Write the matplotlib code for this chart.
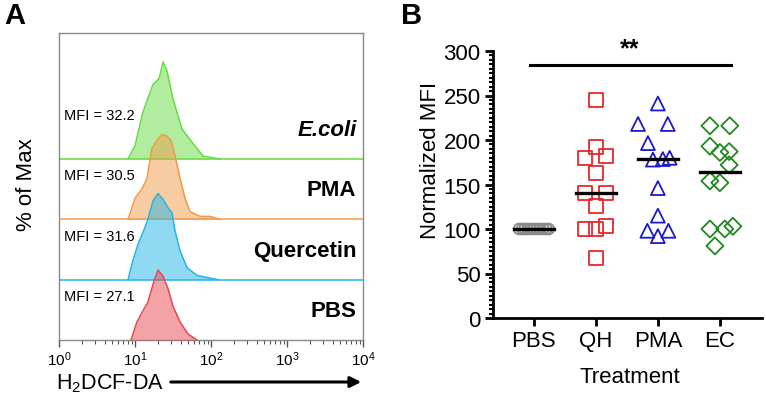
import numpy as np
import matplotlib
matplotlib.use("Agg")
import matplotlib.pyplot as plt
from matplotlib.ticker import LogLocator, MultipleLocator, NullFormatter

plt.rcParams['font.family'] = ['Liberation Sans', 'DejaVu Sans']
plt.rcParams['mathtext.default'] = 'regular'

# ---- Panel A: stacked flow histograms (x = fluorescence, h = % of lane height)
lanes = ["PBS", "Quercetin", "PMA", "E.coli"]
mfi = ["27.1", "31.6", "30.5", "32.2"]
line_colors = ["#e8474f", "#22b5e6", "#f09a48", "#66dd40"]

pbs_x = [8.86, 10.6, 12.4, 14.8, 17.8, 20.1, 23.4, 27.2, 31.6, 39.1, 49.8, 65.4]
pbs_h = [0, 30, 46, 63, 98, 116, 106, 85, 56, 30, 10, 0]

querc_x = [8.09, 9.41, 10.9, 12.7, 14.8, 17.3, 20.1, 23.4, 27.2, 30.7, 33.6, 39.1, 48.3, 65.4, 124]
querc_h = [0, 32, 58, 78, 100, 131, 143, 133, 119, 111, 81, 48, 20, 7, 0]

pma_x = [8.09, 10.0, 12.4, 14.4, 16.7, 19.5, 22.7, 26.4, 29.8, 33.6, 39.1, 45.5, 52.9, 71.6, 97, 131]
pma_h = [0, 35, 51, 68, 118, 131, 141, 138, 131, 106, 68, 35, 13, 5, 5, 0]

ecoli_x = [8.09, 10.0, 12.7, 17.3, 20.7, 23.4, 26.4, 31.6, 41.5, 56.2, 78.5, 131]
ecoli_h = [0, 22, 78, 124, 133, 161, 146, 100, 50, 28, 5, 0]

hist_x = [pbs_x, querc_x, pma_x, ecoli_x]
hist_h = [pbs_h, querc_h, pma_h, ecoli_h]

# ---- Panel B: normalized MFI dot plot
groups = ["PBS", "QH", "PMA", "EC"]
pbs_vals = [100] * 11
pbs_off = [-0.24, -0.19, -0.15, -0.1, -0.05, 0, 0.05, 0.1, 0.15, 0.2, 0.24]
qh_vals = [245, 192.5, 180, 182.4, 163, 140.4, 140.4, 125.5, 100, 100, 103.7, 67.4]
qh_off = [0, 0, -0.17, 0.17, 0, -0.17, 0.17, 0, -0.17, 0, 0.17, 0]
pma_vals = [241, 218, 218, 196.5, 178, 178.6, 180, 146, 115, 98, 98, 92]
pma_off = [0, -0.32, 0.16, -0.16, -0.08, 0.08, 0.19, 0, 0, -0.17, 0.17, 0]
ec_vals = [216, 216, 193, 186, 187, 172, 154, 152, 100, 100, 103, 81]
ec_off = [-0.16, 0.16, -0.16, 0, 0.15, 0.15, -0.16, 0, -0.16, 0.08, 0.21, -0.08]
medians = [100, 140.4, 178.7, 163.7]

fig = plt.figure(figsize=(7.66, 4.02), dpi=100)

# Panel A
axA = fig.add_axes([59 / 766, 61 / 402, 304 / 766, 307 / 402])
axA.set_xscale('log')
axA.set_xlim(1, 1e4)
axA.set_ylim(0, 5.09)
for i in range(3, -1, -1):
    xs = np.array(hist_x[i])
    ys = i + np.array(hist_h[i]) / 100.0
    axA.fill_between(xs, i, ys, color=line_colors[i], alpha=0.5, lw=0, zorder=2 + (3 - i))
    axA.plot(xs, ys, color=line_colors[i], lw=1.1, zorder=2 + (3 - i))
    if i > 0:
        axA.axhline(i, color=line_colors[i], lw=1.1, zorder=2 + (3 - i))
    axA.text(1.16, i + 0.73, "MFI = " + mfi[i], fontsize=10.5, va='center', ha='left', zorder=10)
    style = 'italic' if lanes[i] == "E.coli" else 'normal'
    axA.text(8200, i + 0.49, lanes[i], fontsize=16, fontweight='bold', fontstyle=style,
             ha='right', va='center', zorder=10)
for s in axA.spines.values():
    s.set_color('#888888')
    s.set_linewidth(1.0)
axA.set_yticks([])
axA.xaxis.set_major_locator(LogLocator(base=10, numticks=10))
axA.xaxis.set_minor_locator(LogLocator(base=10, subs=np.arange(2, 10), numticks=10))
axA.xaxis.set_minor_formatter(NullFormatter())
axA.tick_params(axis='x', which='major', length=5, width=1, color='#555555', labelsize=11, pad=2)
axA.tick_params(axis='x', which='minor', length=3, width=0.8, color='#555555')

fig.text(27 / 766, 1 - 185 / 402, "% of Max", rotation=90, fontsize=16, ha='center', va='center')
fig.text(56 / 766, 1 - 384 / 402, "H$_2$DCF-DA", fontsize=15.5, ha='left', va='center')
fig.add_artist(matplotlib.patches.FancyArrowPatch(
    (168 / 766, 1 - 383 / 402), (364 / 766, 1 - 383 / 402), transform=fig.transFigure,
    arrowstyle='-|>', mutation_scale=16, lw=2.2, color='black'))

fig.text(15 / 766, 1 - 16 / 402, "A", fontsize=21, fontweight='bold', ha='center', va='center')
fig.text(412 / 766, 1 - 16 / 402, "B", fontsize=21, fontweight='bold', ha='center', va='center')

# Panel B
axB = fig.add_axes([493 / 766, 83 / 402, 269 / 766, 267 / 402])
axB.set_xlim(-0.66, 3.68)
axB.set_ylim(0, 300)
xpos = np.arange(len(groups))
axB.scatter(xpos[0] + np.array(pbs_off), pbs_vals, s=60, marker='o', facecolors='none',
            edgecolors='#8a8a8a', linewidths=1.3, zorder=3)
axB.scatter(xpos[1] + np.array(qh_off), qh_vals, s=100, marker='s', facecolors='none',
            edgecolors='#e8262b', linewidths=1.3, zorder=3)
axB.scatter(xpos[2] + np.array(pma_off), pma_vals, s=100, marker='^', facecolors='none',
            edgecolors='#1a1acc', linewidths=1.3, zorder=3)
axB.scatter(xpos[3] + np.array(ec_off), ec_vals, s=75, marker='D', facecolors='none',
            edgecolors='#1f8a1f', linewidths=1.3, zorder=3)
for i, m in enumerate(medians):
    axB.plot([xpos[i] - 0.32, xpos[i] + 0.32], [m, m], color='black', lw=2.4, zorder=4)

axB.plot([-0.06, 3.18], [284, 284], color='black', lw=2.2, clip_on=False)
axB.text(1.55, 289, "**", fontsize=18, fontweight='bold', ha='center', va='bottom')

axB.spines['top'].set_visible(False)
axB.spines['right'].set_visible(False)
axB.spines['left'].set_linewidth(2.0)
axB.spines['bottom'].set_linewidth(2.0)
axB.set_xticks(xpos)
axB.set_xticklabels(groups)
axB.yaxis.set_major_locator(MultipleLocator(50))
axB.yaxis.set_minor_locator(MultipleLocator(5))
axB.tick_params(axis='both', which='major', length=6, width=2.0, labelsize=16, pad=3)
axB.tick_params(axis='y', which='minor', length=3, width=1.5)

fig.text(430 / 766, 1 - 160 / 402, "Normalized MFI", rotation=90, fontsize=16, ha='center', va='center')
fig.text(630 / 766, 1 - 378 / 402, "Treatment", fontsize=16, ha='center', va='center')

fig.savefig("out.png", dpi=100)
